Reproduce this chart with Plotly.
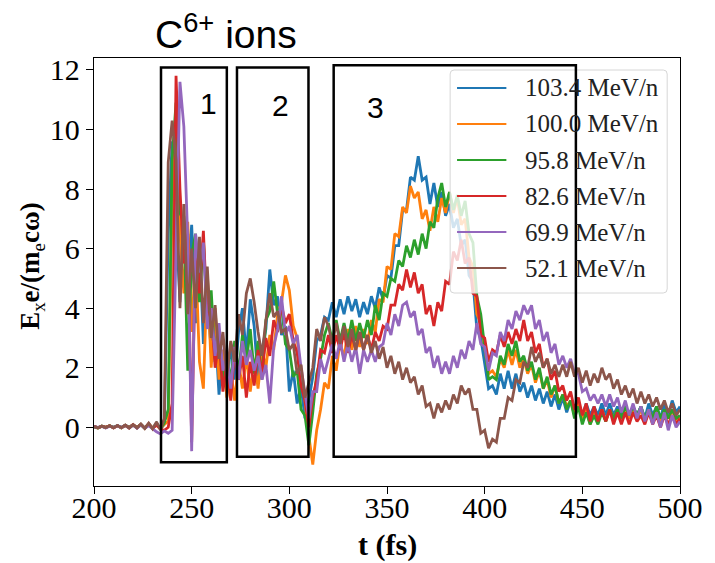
import numpy as np
import plotly.graph_objects as go

# time grid (fs), one sample every 2 fs
t_fs = np.arange(200, 501, 2)

labels = ["103.4 MeV/n", "100.0 MeV/n", "95.8 MeV/n", "82.6 MeV/n", "69.9 MeV/n", "52.1 MeV/n"]
colors = ["#1f77b4", "#ff7f0e", "#2ca02c", "#d62728", "#9467bd", "#8c564b"]

ex_103_4 = [
    0.03, -0.01, 0.04, 0.0, 0.05, -0.01, 0.06, 0.0, 0.07, 0.01,
    0.08, 0.0, 0.1, -0.02, 0.12, -0.04, 0.14, -0.06, 0.1, 6.5,
    9.6, 7.0, 4.2, 7.1, 5.0, 6.8, 3.5, 6.2, 2.8, 4.6,
    2.5, 3.4, 1.1, 2.6, 1.3, 2.8, 1.6, 3.2, 4.0, 2.4,
    4.3, 3.4, 1.6, 2.6, 3.3, 5.3, 4.1, 4.4, 3.1, 3.4,
    1.2, 1.9, 0.8, 1.4, 0.3, 0.9, 1.7, 2.9, 3.1, 3.7,
    3.6, 4.2, 3.7, 4.3, 3.8, 4.4, 3.9, 4.3, 3.7, 4.2,
    3.8, 4.4, 4.0, 4.7, 4.3, 5.1, 5.0, 6.1, 6.1, 7.3,
    7.3, 8.4, 8.3, 9.1, 8.3, 8.4, 7.5, 8.2, 7.4, 7.9,
    7.1, 7.5, 6.7, 7.0, 6.1, 6.3, 5.1, 4.9, 3.3, 3.0,
    2.2, 1.3, 1.4, 1.1, 1.8, 1.3, 1.9, 1.3, 1.8, 1.2,
    1.5, 1.0, 1.4, 0.9, 1.3, 0.8, 1.2, 0.7, 1.1, 0.6,
    1.0, 0.5, 0.9, 0.5, 0.8, 0.4, 0.8, 0.4, 0.7, 0.4,
    0.8, 0.4, 0.8, 0.4, 0.7, 0.4, 0.8, 0.3, 0.7, 0.4,
    0.7, 0.3, 0.8, 0.4, 0.7, 0.3, 0.8, 0.4, 0.9, 0.5,
    0.7,
]

ex_100_0 = [
    0.02, -0.02, 0.03, 0.0, 0.05, -0.01, 0.05, -0.02, 0.06, 0.0,
    0.09, -0.01, 0.1, -0.03, 0.12, -0.02, 0.08, -0.05, 0.1, 0.2,
    7.5, 10.0, 6.5, 4.5, 6.9, 3.2, 5.8, 2.2, 1.3, 5.2,
    2.0, 4.0, 1.6, 2.6, 1.0, 1.9, 0.9, 2.2, 1.3, 2.4,
    1.2, 2.3, 1.3, 2.6, 2.0, 3.1, 2.6, 3.8, 4.2, 5.1,
    4.6, 3.4, 3.0, 1.7, 0.9, -0.3, -1.25, -0.1, 0.6, 1.5,
    1.3, 2.4, 1.9, 2.9, 2.3, 3.3, 2.6, 3.4, 2.7, 3.3,
    2.8, 3.6, 3.2, 4.3, 4.2, 5.4, 5.3, 6.5, 6.4, 7.4,
    7.2, 8.1, 7.7, 7.9, 7.0, 7.3, 6.6, 7.4, 6.9, 7.7,
    7.2, 7.9, 7.2, 7.7, 6.8, 7.0, 5.7, 5.4, 3.8, 3.5,
    2.7, 1.8, 1.9, 1.7, 2.3, 2.0, 2.6, 2.1, 2.6, 2.0,
    2.3, 1.8, 2.1, 1.5, 1.9, 1.3, 1.6, 1.0, 1.4, 0.8,
    1.1, 0.7, 0.9, 0.4, 0.8, 0.3, 0.6, 0.1, 0.5, 0.2,
    0.6, 0.2, 0.6, 0.3, 0.6, 0.2, 0.6, 0.3, 0.6, 0.3,
    0.6, 0.2, 0.6, 0.3, 0.6, 0.2, 0.5, 0.3, 0.6, 0.2,
    0.4,
]

ex_95_8 = [
    0.01, -0.02, 0.04, -0.01, 0.05, 0.0, 0.06, -0.02, 0.07, -0.01,
    0.08, -0.02, 0.09, -0.03, 0.11, -0.04, 0.13, -0.05, 0.15, 0.6,
    9.0, 10.9, 7.2, 6.9, 1.9, 5.8, 6.5, 4.2, 6.3, 3.6,
    4.6, 2.2, 3.0, 1.4, 2.5, 1.5, 2.9, 1.8, 3.1, 2.2,
    3.3, 1.8, 2.9, 1.6, 3.6, 3.9, 4.9, 3.8, 4.1, 2.8,
    2.6, 1.7, 1.9, 0.6, 0.4, -0.6, 0.5, 1.8, 2.3, 3.1,
    3.5, 2.9, 3.6, 2.9, 3.5, 2.9, 3.6, 2.9, 3.5, 3.0,
    3.6, 3.1, 4.1, 3.6, 4.5, 4.4, 5.0, 4.9, 5.6, 5.4,
    6.1, 5.7, 6.3, 5.8, 6.5, 6.0, 6.9, 6.7, 7.7, 8.2,
    7.4, 7.9, 7.3, 7.8, 7.1, 7.6, 6.5, 6.2, 4.4, 3.8,
    2.7, 1.6, 1.7, 1.6, 2.4, 2.1, 2.8, 2.4, 2.9, 2.2,
    2.4, 1.9, 2.2, 1.6, 2.0, 1.3, 1.7, 1.1, 1.4, 0.8,
    1.1, 0.6, 0.9, 0.3, 0.7, 0.1, 0.5, 0.1, 0.4, 0.1,
    0.5, 0.2, 0.6, 0.3, 0.6, 0.3, 0.7, 0.4, 0.7, 0.4,
    0.7, 0.3, 0.6, 0.3, 0.7, 0.3, 0.6, 0.3, 0.6, 0.3,
    0.4,
]

ex_82_6 = [
    0.03, -0.01, 0.04, 0.0, 0.05, -0.02, 0.06, -0.01, 0.07, -0.02,
    0.09, -0.02, 0.1, -0.03, 0.12, -0.04, 0.08, -0.06, -0.1, 0.0,
    0.8, 11.8, 8.0, 5.5, 6.5, -0.5, 6.0, 4.5, 6.6, 3.6,
    4.0, 2.0, 2.9, 1.2, 2.2, 0.9, 2.6, 1.6, 2.4, 1.0,
    2.2, 1.4, 2.6, 1.8, 3.0, 2.4, 3.6, 3.2, 4.1, 3.5,
    3.8, 2.9, 2.5, 1.4, 0.9, 0.0, 1.0, 1.6, 2.6, 2.5,
    3.1, 2.5, 3.1, 2.6, 3.2, 2.5, 3.1, 2.6, 3.2, 2.6,
    3.1, 2.6, 3.2, 2.9, 3.4, 3.3, 4.1, 4.1, 4.8, 4.6,
    5.3, 4.7, 5.2, 4.5, 4.8, 3.8, 4.1, 3.4, 4.2, 3.9,
    4.9, 4.8, 5.9, 5.6, 6.3, 5.5, 5.7, 4.5, 4.4, 3.1,
    3.0, 2.2, 2.6, 2.5, 3.1, 2.7, 3.2, 2.8, 3.3, 2.9,
    3.6, 2.9, 3.2, 2.5, 2.8, 2.0, 2.3, 1.6, 1.9, 1.2,
    1.4, 0.9, 1.2, 0.6, 1.0, 0.4, 0.8, 0.2, 0.7, 0.2,
    0.6, 0.2, 0.6, 0.1, 0.5, 0.1, 0.5, 0.1, 0.5, 0.2,
    0.4, 0.1, 0.5, 0.1, 0.4, 0.0, 0.4, 0.1, 0.4, 0.1,
    0.3,
]

ex_69_9 = [
    0.02, -0.01, 0.03, -0.02, 0.04, 0.0, 0.05, -0.01, 0.06, -0.02,
    0.07, -0.03, 0.08, -0.03, 0.06, -0.05, -0.15, -0.22, -0.12, -0.2,
    -0.1, 6.0, 11.6, 10.1, 6.3, -0.8, 6.5, 5.2, 6.2, 3.3,
    4.0, 2.4, 3.5, 1.9, 2.5, 1.3, 2.7, 1.6, 2.9, 2.1,
    2.6, 1.9, 2.4, 1.6, 2.1, 0.8, 2.7, 3.3, 4.4, 3.1,
    3.4, 2.8, 3.1, 2.0, 1.2, 0.3, 1.2, 1.2, 2.3, 1.8,
    2.3, 2.8, 2.3, 2.9, 2.2, 2.8, 2.2, 2.7, 1.8, 2.6,
    2.2, 2.6, 2.2, 2.7, 2.8, 3.5, 3.1, 3.8, 3.4, 4.1,
    4.2, 3.7, 3.9, 3.1, 3.3, 2.5, 2.7, 2.0, 2.4, 1.8,
    2.2, 1.8, 2.4, 2.0, 2.6, 2.3, 2.9, 2.6, 3.5, 2.8,
    2.7, 1.9, 2.5, 2.4, 3.2, 2.9, 3.6, 3.3, 3.9, 3.6,
    4.1, 3.8, 4.1, 3.3, 3.6, 2.9, 3.2, 2.5, 2.8, 2.1,
    2.4, 2.0, 2.3, 1.8, 1.8, 1.2, 1.3, 0.9, 1.1, 0.8,
    1.1, 0.7, 1.1, 0.7, 1.0, 0.5, 0.9, 0.4, 0.8, 0.3,
    0.7, 0.2, 0.6, 0.1, 0.5, 0.0, 0.5, -0.1, 0.4, 0.0,
    0.2,
]

ex_52_1 = [
    0.03, -0.02, 0.04, -0.01, 0.05, -0.02, 0.06, -0.01, 0.07, -0.03,
    0.09, -0.02, 0.11, -0.04, 0.14, -0.05, 0.18, -0.08, 0.3, 8.9,
    10.3, 9.0, 4.0, 7.5, 3.8, 6.0, 4.0, 6.4, 3.5, 5.4,
    3.0, 4.1, 2.3, 3.2, 1.7, 2.9, 2.2, 3.8, 3.1, 4.5,
    5.0, 4.2, 3.2, 2.4, 3.6, 4.5, 3.7, 3.9, 3.2, 3.3,
    2.6, 2.8, 1.8, 2.1, 1.0, 1.5, 2.0, 3.3, 2.9, 3.7,
    3.4, 2.8, 3.5, 2.8, 3.4, 2.7, 3.3, 2.6, 3.2, 2.6,
    3.1, 2.5, 2.9, 2.3, 2.7, 2.0, 2.4, 1.8, 2.2, 1.6,
    2.0, 1.5, 1.7, 1.1, 1.4, 0.7, 0.8, 0.3, 0.8, 0.5,
    0.9, 0.6, 1.1, 0.8, 1.4, 1.1, 1.3, 0.6, 0.6, -0.2,
    -0.1, -0.7, -0.4, -0.5, 0.3, 0.3, 1.0, 0.9, 1.6, 1.5,
    2.2, 2.0, 2.7, 2.2, 2.5, 2.0, 2.3, 1.8, 2.1, 1.7,
    2.1, 1.7, 2.2, 1.7, 2.0, 1.5, 1.9, 1.4, 1.8, 1.5,
    2.0, 1.6, 1.8, 1.3, 1.6, 1.1, 1.4, 1.0, 1.3, 0.8,
    1.2, 0.8, 1.1, 0.7, 1.0, 0.6, 0.9, 0.5, 0.8, 0.4,
    0.6,
]

series = [ex_103_4, ex_100_0, ex_95_8, ex_82_6, ex_69_9, ex_52_1]

# stage boxes: (t_start, t_end, E_low, E_high, label, label_t, label_E)
boxes = [
    (234.3, 268.0, -1.17, 12.08, "1", 258.4, 10.88),
    (273.2, 309.8, -0.99, 12.08, "2", 295.3, 10.80),
    (322.7, 446.7, -0.99, 12.16, "3", 344.3, 10.75),
]

W, H = 715, 563
L, R, T, B = 94, 27, 58, 77
PW, PH = W - L - R, H - T - B

SERIF = "Liberation Serif, Times New Roman, serif"
SANS = "Liberation Sans, Arial, sans-serif"


def paper_x(px):
    return (px - L) / PW


def paper_y(py):
    return (H - B - py) / PH


fig = go.Figure()
for vals, name, col in zip(series, labels, colors):
    fig.add_trace(go.Scatter(
        x=t_fs, y=vals, mode="lines", name=name,
        line=dict(color=col, width=2.8), showlegend=False,
    ))

shapes = []
annotations = []

# legend panel (semi-transparent, rounded corners)
lx0, lx1, ly0, ly1 = paper_x(455), paper_x(675), paper_y(293), paper_y(70)
rx, ry = 4 / PW, 4 / PH
path = (f"M {lx0+rx},{ly0} L {lx1-rx},{ly0} Q {lx1},{ly0} {lx1},{ly0+ry} "
        f"L {lx1},{ly1-ry} Q {lx1},{ly1} {lx1-rx},{ly1} L {lx0+rx},{ly1} "
        f"Q {lx0},{ly1} {lx0},{ly1-ry} L {lx0},{ly0+ry} Q {lx0},{ly0} {lx0+rx},{ly0} Z")
shapes.append(dict(type="path", path=path, xref="paper", yref="paper",
                   fillcolor="rgba(255,255,255,0.8)",
                   line=dict(color="#d6d6d6", width=1), layer="above"))
for i, (name, col) in enumerate(zip(labels, colors)):
    yc = paper_y(88 + 36 * i)
    shapes.append(dict(type="line", xref="paper", yref="paper",
                       x0=paper_x(462), x1=paper_x(512), y0=yc, y1=yc,
                       line=dict(color=col, width=2), layer="above"))
    annotations.append(dict(text=name, xref="paper", yref="paper",
                            x=paper_x(529), y=yc, xanchor="left", yanchor="middle",
                            showarrow=False,
                            font=dict(family=SERIF, size=25, color="#222")))

for x0, x1, y0, y1, lab, lt, le in boxes:
    shapes.append(dict(type="rect", xref="x", yref="y", x0=x0, x1=x1, y0=y0, y1=y1,
                       line=dict(color="black", width=2.5), layer="above"))
    annotations.append(dict(text=lab, xref="x", yref="y", x=lt, y=le,
                            showarrow=False,
                            font=dict(family=SANS, size=30, color="black")))

annotations.append(dict(text="C<sup>6+</sup> ions", xref="paper", yref="paper",
                        x=paper_x(228), y=paper_y(31), xanchor="center", yanchor="middle",
                        showarrow=False,
                        font=dict(family=SANS, size=39, color="black")))
annotations.append(dict(text="<b>t (fs)</b>", xref="paper", yref="paper",
                        x=0.5, y=paper_y(545), xanchor="center", yanchor="middle",
                        showarrow=False,
                        font=dict(family=SERIF, size=30, color="black")))
annotations.append(dict(text="<b>E</b><sub>x</sub><b>e/(m</b><sub>e</sub><b>cω)</b>",
                        xref="paper", yref="paper", textangle=-90,
                        x=paper_x(31), y=paper_y(266), xanchor="center", yanchor="middle",
                        showarrow=False,
                        font=dict(family=SERIF, size=27, color="black")))

tick_font = dict(family=SERIF, size=30, color="black")
axis_common = dict(ticks="outside", ticklen=7, tickwidth=1.2, tickcolor="black",
                   showline=True, linecolor="black", linewidth=1.3, mirror=True,
                   showgrid=False, zeroline=False, tickfont=tick_font)
fig.update_layout(
    width=W, height=H,
    margin=dict(l=L, r=R, t=T, b=B),
    paper_bgcolor="white", plot_bgcolor="white",
    font=dict(family=SERIF, color="black"),
    shapes=shapes, annotations=annotations,
    xaxis=dict(range=[200, 500], tickvals=[200, 250, 300, 350, 400, 450, 500],
               ticklabelstandoff=-12, **axis_common),
    yaxis=dict(range=[-1.97, 12.4], tickvals=[-2, 0, 2, 4, 6, 8, 10, 12],
               ticktext=["-2", "0", "2", "4", "6", "8", "10", "12"], **axis_common),
)

fig.write_html("out.html")
